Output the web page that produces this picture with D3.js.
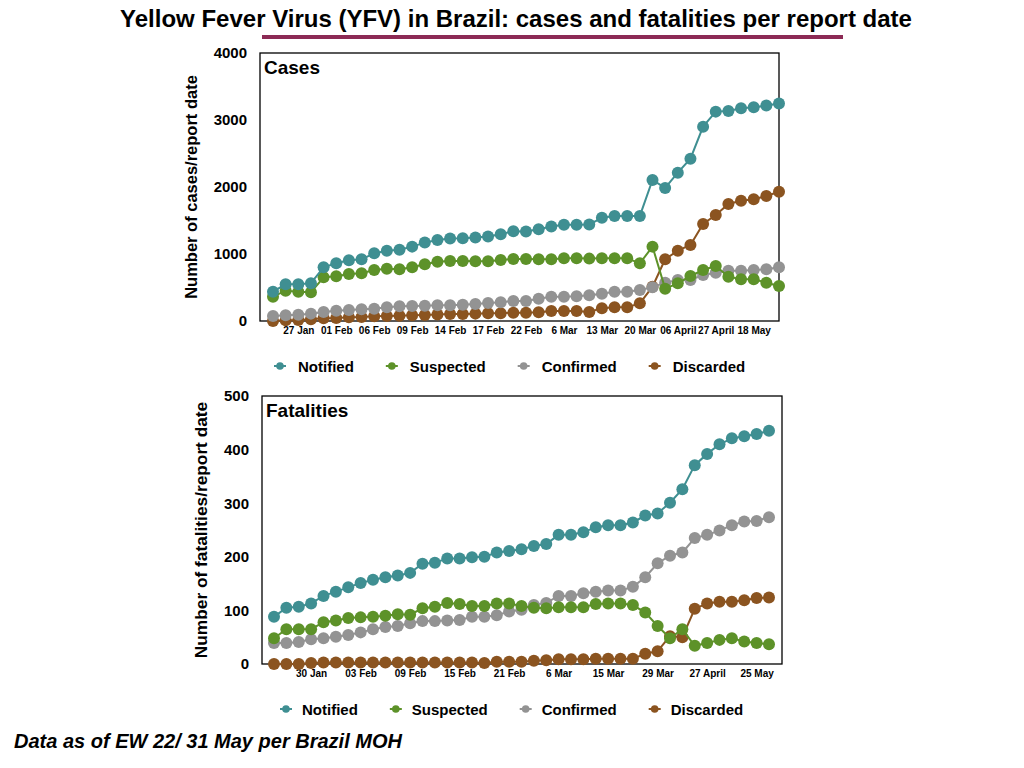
<!DOCTYPE html>
<html>
<head>
<meta charset="utf-8">
<script src="https://cdn.jsdelivr.net/npm/d3@7"></script>
<style>
	body { margin: 0; background: #fff; }
	text { font-family: "Liberation Sans", Arial, Helvetica, sans-serif; }
	.tick text { font-weight: bold; fill: #000; }
	.bold { font-weight: bold; }
</style>
</head>
<body>
<div id="chart"></div>
<script>

// ---- data ----
const seriesNames = ["Notified", "Suspected", "Confirmed", "Discarded"];
const seriesColors = ["#3f8f92", "#5d9229", "#939393", "#8b5420"];

// cases per report date (41 reports)
const casesNotified = [437, 548, 548, 565, 802, 861, 906, 921, 1010, 1050, 1065, 1110, 1170, 1210,
	1230, 1235, 1245, 1260, 1295, 1340, 1335, 1370, 1410, 1435, 1435, 1440,
	1540, 1568, 1568, 1568, 2105, 1986, 2214, 2423, 2901, 3125, 3135, 3175, 3190, 3215, 3245];
const casesSuspected = [363, 453, 437, 428, 652, 667, 702, 712, 761, 781, 772, 802, 846, 884,
	896, 896, 891, 891, 911, 926, 926, 921, 921, 936, 936, 931, 936, 936, 936,
	861, 1110, 483, 562, 672, 761, 821, 662, 622, 622, 572, 523];
const casesConfirmed = [75, 85, 95, 110, 134, 154, 164, 174, 184, 204, 219, 224, 229, 234,
	234, 244, 254, 269, 279, 299, 299, 333, 363, 363, 368, 383,
	408, 438, 438, 463, 503, 572, 612, 612, 687, 721, 751, 751, 761, 771, 801];
const casesDiscarded = [0, 10, 15, 25, 40, 45, 55, 60, 70, 75, 80, 85, 90, 98,
	105, 105, 110, 115, 115, 124, 124, 129, 149, 149, 149, 134,
	192, 204, 204, 264, 512, 921, 1050, 1135, 1448, 1582, 1746, 1796, 1816, 1866, 1930];

const casesTickIndex = [2, 5, 8, 11, 14, 17, 20, 23, 26, 29, 32, 35, 38];
const casesTickLabels = ["27 Jan", "01 Feb", "06 Feb", "09 Feb", "14 Feb", "17 Feb", "22 Feb",
	"6 Mar", "13 Mar", "20 Mar", "06 April", "27 April", "18 May"];
const casesYTicks = [0, 1000, 2000, 3000, 4000];

// fatalities per report date (41 reports)
const fatalNotified = [88, 105, 107, 113, 127, 135, 143, 151, 157, 162, 165, 170, 187, 189, 197, 197, 199, 200,
	208, 211, 214, 220, 224, 241, 241, 246, 255, 259, 259, 264, 277, 281, 301, 326, 371, 392, 410, 421, 425, 429, 435];
const fatalSuspected = [48, 65, 65, 65, 78, 81, 86, 87, 88, 90, 93, 92, 104, 107, 114, 112, 108, 108,
	113, 113, 108, 105, 104, 106, 106, 106, 112, 113, 113, 110, 96, 71, 48, 65, 34, 39, 45, 48, 42, 39, 37];
const fatalConfirmed = [39, 39, 41, 46, 48, 51, 54, 59, 65, 69, 71, 76, 80, 80, 81, 82, 88, 88, 91,
	98, 101, 110, 114, 127, 127, 132, 135, 137, 137, 144, 162, 188, 202, 208, 235, 241, 249, 259, 266, 267, 274];
const fatalDiscarded = [0, 0, 0, 2, 3, 3, 3, 3, 3, 3, 3, 3, 3, 3, 3, 3, 3, 2,
	4, 4, 4, 6, 7, 9, 9, 9, 10, 10, 10, 10, 19, 24, 52, 50, 103, 113, 116, 116, 119, 123, 124];

const fatalTickIndex = [3, 7, 11, 15, 19, 23, 27, 31, 35, 39];
const fatalTickLabels = ["30 Jan", "03 Feb", "09 Feb", "15 Feb", "21 Feb", "6 Mar", "15 Mar",
	"29 Mar", "27 April", "25 May"];
const fatalYTicks = [0, 100, 200, 300, 400, 500];


class LineVis {

	constructor(svg, config) {
		this.svg = svg;
		this.config = config;
		this.initVis();
	}

	initVis() {
		let vis = this;
		let c = vis.config;

		vis.width = c.width;
		vis.height = c.height;

		vis.g = vis.svg.append("g")
			.attr("transform", "translate(" + c.left + "," + c.top + ")");

		vis.x = d3.scalePoint()
			.domain(d3.range(c.series[0].length))
			.range([c.padLeft, vis.width - c.padRight]);

		vis.y = d3.scaleLinear()
			.domain([0, c.yMax])
			.range([vis.height, 0]);

		// y axis (labels only)
		vis.g.append("g")
			.attr("class", "y-axis axis")
			.call(d3.axisLeft(vis.y).tickValues(c.yTicks).tickSize(0).tickPadding(13).tickFormat(d3.format("d")))
			.call(g => g.select(".domain").remove())
			.selectAll("text")
			.style("font-size", "15px");

		// x axis (labels only)
		let labelOf = {};
		c.tickIndex.forEach((d, i) => labelOf[d] = c.tickLabels[i]);
		vis.g.append("g")
			.attr("class", "x-axis axis")
			.attr("transform", "translate(0," + vis.height + ")")
			.call(d3.axisBottom(vis.x).tickValues(c.tickIndex).tickSize(0).tickPadding(6)
				.tickFormat(d => labelOf[d]))
			.call(g => g.select(".domain").remove())
			.selectAll("text")
			.style("font-size", "10px");

		// frame
		vis.g.append("rect")
			.attr("width", vis.width)
			.attr("height", vis.height)
			.attr("fill", "none")
			.attr("stroke", "#000")
			.attr("stroke-width", 1.3);

		// panel title
		vis.g.append("text")
			.attr("class", "bold")
			.attr("x", 4)
			.attr("y", 21)
			.style("font-size", "19px")
			.text(c.title);

		// y axis title
		vis.g.append("text")
			.attr("class", "bold")
			.attr("transform", "translate(" + c.yTitleX + "," + (vis.height / 2) + ") rotate(-90)")
			.attr("text-anchor", "middle")
			.style("font-size", c.yTitleSize + "px")
			.text(c.yTitle);

		vis.updateVis();
		vis.drawLegend();
	}

	updateVis() {
		let vis = this;
		let c = vis.config;

		let line = d3.line()
			.x((d, i) => vis.x(i))
			.y(d => vis.y(d));

		// draw last series first, so Notified sits on top
		let order = d3.range(c.series.length).reverse();

		order.forEach(function (k) {
			let sg = vis.g.append("g").attr("class", "series");
			sg.append("path")
				.datum(c.series[k])
				.attr("d", line)
				.attr("fill", "none")
				.attr("stroke", seriesColors[k])
				.attr("stroke-width", 2);

			sg.selectAll("circle")
				.data(c.series[k])
				.enter()
				.append("circle")
				.attr("cx", (d, i) => vis.x(i))
				.attr("cy", d => vis.y(d))
				.attr("r", 6)
				.attr("fill", seriesColors[k]);
		});
	}

	drawLegend() {
		let vis = this;
		let c = vis.config;

		let lg = vis.svg.append("g")
			.attr("transform", "translate(" + c.legendX + "," + c.legendY + ")");

		let cursor = 0;
		seriesNames.forEach(function (name, k) {
			let item = lg.append("g").attr("transform", "translate(" + cursor + ",0)");
			item.append("line")
				.attr("x1", -6).attr("x2", 6)
				.attr("y1", 0).attr("y2", 0)
				.attr("stroke", seriesColors[k])
				.attr("stroke-width", 2);
			item.append("circle")
				.attr("r", 3.8)
				.attr("fill", seriesColors[k]);
			let t = item.append("text")
				.attr("class", "bold")
				.attr("x", c.legendTextGap)
				.attr("y", 5.5)
				.style("font-size", "15px")
				.text(name);
			cursor += c.legendTextGap + t.node().getComputedTextLength() + c.legendItemGap;
		});
	}
}


let svg = d3.select("#chart").append("svg")
	.attr("width", 1024)
	.attr("height", 768);

// main title
svg.append("text")
	.attr("class", "bold")
	.attr("x", 516)
	.attr("y", 27)
	.attr("text-anchor", "middle")
	.style("font-size", "24px")
	.text("Yellow Fever Virus (YFV) in Brazil: cases and fatalities per report date");

svg.append("rect")
	.attr("x", 262)
	.attr("y", 35)
	.attr("width", 581)
	.attr("height", 4)
	.attr("fill", "#8c2a55");

let casesVis = new LineVis(svg, {
	left: 260, top: 53, width: 519, height: 268,
	padLeft: 13, padRight: 0,
	yMax: 4000, yTicks: casesYTicks,
	tickIndex: casesTickIndex, tickLabels: casesTickLabels,
	series: [casesNotified, casesSuspected, casesConfirmed, casesDiscarded],
	title: "Cases",
	yTitle: "Number of cases/report date",
	yTitleX: -63, yTitleSize: 16.5,
	legendX: 280, legendY: 366, legendTextGap: 18, legendItemGap: 38
});

let fatalVis = new LineVis(svg, {
	left: 262, top: 396, width: 520, height: 268,
	padLeft: 12, padRight: 13,
	yMax: 500, yTicks: fatalYTicks,
	tickIndex: fatalTickIndex, tickLabels: fatalTickLabels,
	series: [fatalNotified, fatalSuspected, fatalConfirmed, fatalDiscarded],
	title: "Fatalities",
	yTitle: "Number of fatalities/report date",
	yTitleX: -55, yTitleSize: 17.3,
	legendX: 286, legendY: 709, legendTextGap: 16, legendItemGap: 38
});

// footnote
svg.append("text")
	.attr("x", 14)
	.attr("y", 748)
	.style("font-size", "20px")
	.style("font-weight", "bold")
	.style("font-style", "italic")
	.text("Data as of EW 22/ 31 May per Brazil MOH");

</script>
</body>
</html>
